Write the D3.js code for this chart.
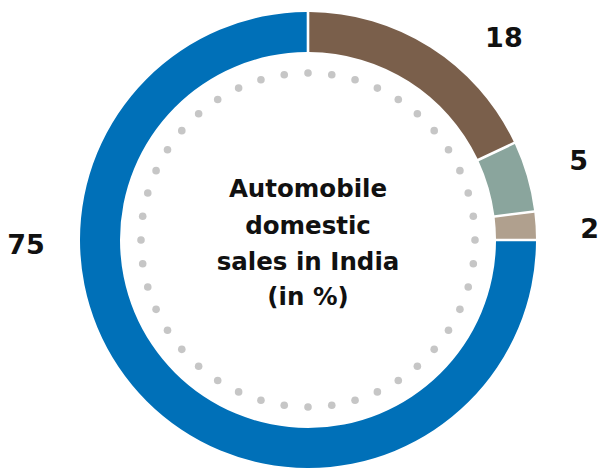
<!DOCTYPE html>
<html>
<head>
<meta charset="utf-8">
<script src="https://cdn.jsdelivr.net/npm/d3@7"></script>
<style>
html,body{margin:0;padding:0;background:#fff;}
svg{display:block;}
</style>
</head>
<body>
<svg id="chart" width="602" height="468"></svg>
<script>
// ---- data ----
const categories = ["A", "B", "C", "D"];
const values = [18, 5, 2, 75];
const colors = ["#7a5f4b", "#8aa59d", "#b0a08e", "#0070b8"];
const centerLines = ["Automobile", "domestic", "sales in India", "(in %)"];
const dotCount = 44;

// ---- layout ----
const W = 602, H = 468;
const cx = 308, cy = 240;
const outerR = 228, innerR = 188, dotR = 167;
const labelR = 282;
const labelAngleDeg = [44, 73.6, 87.6, 269];
const font = "'DejaVu Sans', sans-serif";

const svg = d3.select("#chart");
const g = svg.append("g").attr("transform", `translate(${cx},${cy})`);

const pie = d3.pie().sort(null).value(d => d)(values);
const arc = d3.arc().innerRadius(innerR).outerRadius(outerR)
  .padAngle(2.6 / outerR).padRadius(outerR);

g.selectAll("path.slice").data(pie).join("path")
  .attr("class", "slice")
  .attr("d", arc)
  .attr("fill", (d, i) => colors[i]);

// dotted circle
const dotAngle = d3.scaleLinear().domain([0, dotCount]).range([0, 2 * Math.PI]);
g.selectAll("circle.dot").data(d3.range(dotCount)).join("circle")
  .attr("class", "dot")
  .attr("cx", i => dotR * Math.sin(dotAngle(i)))
  .attr("cy", i => -dotR * Math.cos(dotAngle(i)))
  .attr("r", 3.8)
  .attr("fill", "#c6c6c6");

// value labels
g.selectAll("text.val").data(pie).join("text")
  .attr("class", "val")
  .attr("x", (d, i) => labelR * Math.sin(labelAngleDeg[i] * Math.PI / 180))
  .attr("y", (d, i) => -labelR * Math.cos(labelAngleDeg[i] * Math.PI / 180))
  .attr("text-anchor", "middle")
  .attr("dominant-baseline", "central")
  .attr("font-family", font)
  .attr("font-weight", "bold")
  .attr("font-size", 27)
  .attr("fill", "#111")
  .text(d => d.data);

// center text
const baselines = [-43, -6, 30, 65];
g.selectAll("text.center").data(centerLines).join("text")
  .attr("class", "center")
  .attr("x", 0)
  .attr("y", (d, i) => baselines[i])
  .attr("text-anchor", "middle")
  .attr("font-family", font)
  .attr("font-weight", "bold")
  .attr("font-size", 24.5)
  .attr("fill", "#111")
  .text(d => d);
</script>
</body>
</html>
